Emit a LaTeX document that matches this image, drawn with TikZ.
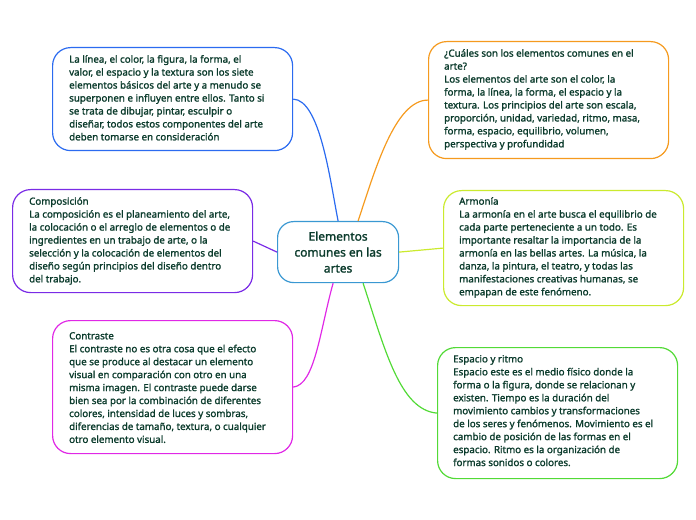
\documentclass[tikz,border=0pt]{standalone}
\usepackage{fontspec}
\setmainfont{Noto Sans}[AutoFakeBold=1.4]
\definecolor{txt}{HTML}{0B3B2C}
\definecolor{cblue}{HTML}{2B6BF0}
\definecolor{cpurple}{HTML}{7A2BE6}
\definecolor{cmag}{HTML}{E028E6}
\definecolor{corange}{HTML}{F59A1E}
\definecolor{cyel}{HTML}{CBEA2E}
\definecolor{cgreen}{HTML}{52DA36}
\definecolor{ccenter}{HTML}{3A98D2}
\begin{document}
\begin{tikzpicture}[x=1bp,y=-1bp,
  box/.style={line width=1.2pt,rounded corners=18bp,fill=white},
  txtn/.style={anchor=north west,align=left,text=txt,font=\fontsize{9.8}{13}\selectfont\bfseries,inner sep=0pt},
  conn/.style={line width=1.2pt}]
\useasboundingbox (0,0) rectangle (696,520);
% boxes
\node[box,draw=cblue,minimum width=240bp,minimum height=103bp,anchor=north west] (b1) at (52,47) {};
\node[box,draw=cpurple,minimum width=240bp,minimum height=103bp,anchor=north west] (b2) at (12,189) {};
\node[box,draw=cmag,minimum width=240bp,minimum height=133bp,anchor=north west] (b3) at (52,320) {};
\node[box,draw=corange,minimum width=240bp,minimum height=117bp,anchor=north west] (b4) at (428,41) {};
\node[box,draw=cyel,minimum width=240bp,minimum height=115bp,anchor=north west] (b5) at (443,190) {};
\node[box,draw=cgreen,minimum width=240bp,minimum height=131bp,anchor=north west] (b6) at (437,347) {};
\node[box,draw=ccenter,minimum width=121bp,minimum height=61bp,anchor=north west,rounded corners=16bp] (c) at (277,221) {};
% connectors
\draw[conn,cblue] (c.north)+(0,0) .. controls (330,180) and (320,100) .. (b1.east);
\draw[conn,corange] (c.north)++(20,0) .. controls (375,170) and (395,100) .. (b4.west);
\draw[conn,cpurple] (c.west) -- (b2.east);
\draw[conn,cyel] (c.east) -- (b5.west);
\draw[conn,cmag] (c.south)++(-5,0) .. controls (320,330) and (315,385) .. (b3.east);
\draw[conn,cgreen] (c.south)++(25,0) .. controls (385,350) and (400,410) .. (b6.west);
% texts
\node[align=center,text=txt,font=\fontsize{12}{16}\selectfont\bfseries] (ct) at (c.center) {Elementos\\comunes en las\\artes};
\node[txtn] (t1) at (69,55) {La línea, el color, la figura, la forma, el\\valor, el espacio y la textura son los siete\\elementos básicos del arte y a menudo se\\superponen e influyen entre ellos. Tanto si\\se trata de dibujar, pintar, esculpir o\\diseñar, todos estos componentes del arte\\deben tomarse en consideración};
\node[txtn] (t2) at (29,197) {Composición\\La composición es el planeamiento del arte,\\la colocación o el arreglo de elementos o de\\ingredientes en un trabajo de arte, o la\\selección y la colocación de elementos del\\diseño según principios del diseño dentro\\del trabajo.};
\node[txtn] (t3) at (69,332) {Contraste\\El contraste no es otra cosa que el efecto\\que se produce al destacar un elemento\\visual en comparación con otro en una\\misma imagen. El contraste puede darse\\bien sea por la combinación de diferentes\\colores, intensidad de luces y sombras,\\diferencias de tamaño, textura, o cualquier\\otro elemento visual.};
\node[txtn] (t4) at (444,49) {¿Cuáles son los elementos comunes en el\\arte?\\Los elementos del arte son el color, la\\forma, la línea, la forma, el espacio y la\\textura. Los principios del arte son escala,\\proporción, unidad, variedad, ritmo, masa,\\forma, espacio, equilibrio, volumen,\\perspectiva y profundidad};
\node[txtn] (t5) at (459,197) {Armonía\\La armonía en el arte busca el equilibrio de\\cada parte perteneciente a un todo. Es\\importante resaltar la importancia de la\\armonía en las bellas artes. La música, la\\danza, la pintura, el teatro, y todas las\\manifestaciones creativas humanas, se\\empapan de este fenómeno.};
\node[txtn] (t6) at (453,355) {Espacio y ritmo\\Espacio este es el medio físico donde la\\forma o la figura, donde se relacionan y\\existen. Tiempo es la duración del\\movimiento cambios y transformaciones\\de los seres y fenómenos. Movimiento es el\\cambio de posición de las formas en el\\espacio. Ritmo es la organización de\\formas sonidos o colores.};
\end{tikzpicture}
\end{document}
